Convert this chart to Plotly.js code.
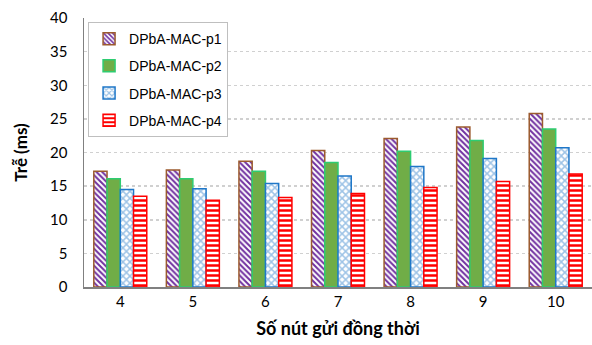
<!DOCTYPE html>
<html>
<head>
<meta charset="utf-8">
<script src="https://cdn.plot.ly/plotly-3.0.1.min.js"></script>
<style>html,body{margin:0;padding:0;background:#fff;}#chart{width:592px;height:345px;}</style>
</head>
<body>
<div id="chart"></div>
<script>
const categories = ["4", "5", "6", "7", "8", "9", "10"];
const seriesNames = ["DPbA-MAC-p1", "DPbA-MAC-p2", "DPbA-MAC-p3", "DPbA-MAC-p4"];
const p1 = [17.2, 17.4, 18.7, 20.3, 22.1, 23.8, 25.8];
const p2 = [16.1, 16.1, 17.2, 18.5, 20.2, 21.8, 23.5];
const p3 = [14.5, 14.6, 15.4, 16.5, 17.9, 19.1, 20.7];
const p4 = [13.5, 12.9, 13.3, 13.9, 14.8, 15.7, 16.8];
const yTicks = [0, 5, 10, 15, 20, 25, 30, 35, 40];

const styles = [
  {line: "#9C5B2E", fg: "#7030A0", bg: "#ffffff", shape: "\\", solid: null, size: 4},
  {line: "#2ECC71", fg: null, bg: null, shape: "", solid: "#70AD47", size: 6},
  {line: "#1F77C8", fg: "#9DC3E6", bg: "#ffffff", shape: "x", solid: null, size: 5},
  {line: "#FF0000", fg: "#FF0000", bg: "#ffffff", shape: "-", solid: null, size: 5}
];
const values = [p1, p2, p3, p4];

const traces = values.map((v, i) => {
  const s = styles[i];
  const marker = {line: {color: s.line, width: 1.5}};
  if (s.solid) {
    marker.color = s.solid;
  } else {
    marker.color = s.bg;
    marker.pattern = {shape: s.shape, fgcolor: s.fg, bgcolor: s.bg, size: s.size, solidity: 0.5, fillmode: "replace"};
  }
  return {type: "bar", name: seriesNames[i], legendgroup: "g" + i, x: categories, y: v, marker: marker};
});

const layout = {
  width: 592, height: 345,
  margin: {l: 84, r: 0, t: 18, b: 58},
  paper_bgcolor: "#fff", plot_bgcolor: "#fff",
  barmode: "group", bargap: 0.27, bargroupgap: 0,
  font: {family: "Lato, 'Open Sans', sans-serif", size: 14, color: "#000"},
  xaxis: {
    type: "category",
    showline: true, linecolor: "#808080", linewidth: 1.5,
    ticks: "", showgrid: false,
    tickfont: {size: 15},
    title: {text: "<b>Số nút gửi đồng thời</b>", font: {size: 18}, standoff: 14}
  },
  yaxis: {
    range: [0, 40], tickvals: yTicks, ticktext: yTicks.map(String),
    showline: true, linecolor: "#808080", linewidth: 1.5,
    gridcolor: "#D0D0D0", griddash: "dot", gridwidth: 1.5,
    zeroline: false, ticks: "", ticklabelstandoff: 12,
    tickfont: {size: 15},
    title: {text: "<b>Trễ (ms)</b>", font: {size: 17}, standoff: 18}
  },
  legend: {
    x: 0.008, y: 0.985, xanchor: "left", yanchor: "top",
    bgcolor: "#fff", bordercolor: "#BFBFBF", borderwidth: 1,
    font: {family: "Arial, 'Liberation Sans', sans-serif", size: 14},
    traceorder: "grouped", tracegroupgap: 6, itemwidth: 30
  },
  showlegend: true
};

Plotly.newPlot("chart", traces, layout, {displayModeBar: false, staticPlot: true});
</script>
</body>
</html>
